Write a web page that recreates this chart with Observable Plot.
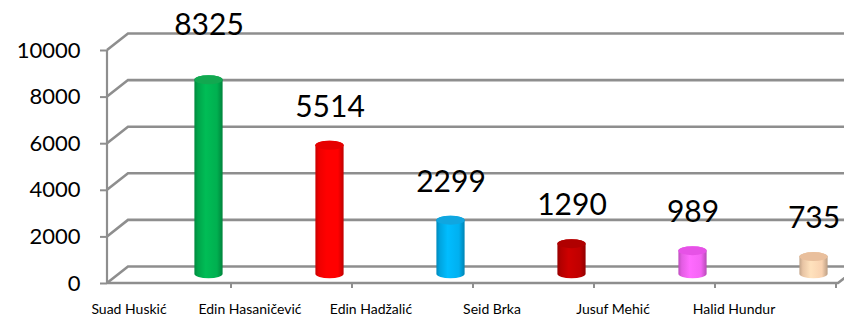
<!DOCTYPE html>
<html>
<head>
<meta charset="utf-8">
<script src="https://cdn.jsdelivr.net/npm/d3@7"></script>
<script src="https://cdn.jsdelivr.net/npm/@observablehq/plot@0.6"></script>
<style>
  html, body { margin: 0; padding: 0; background: #fff; }
  #chart { width: 844px; height: 319px; }
</style>
</head>
<body>
<div id="chart"></div>
<script>
// ---- data ----
const names = ["Suad Huskić", "Edin Hasaničević", "Edin Hadžalić", "Seid Brka", "Jusuf Mehić", "Halid Hundur"];
const values = [8325, 5514, 2299, 1290, 989, 735];
const yTicks = [0, 2000, 4000, 6000, 8000, 10000];
const bodyColors = ["#00b050", "#ff0000", "#00b0f0", "#c00000", "#f464f4", "#f9d2b0"];
const capColors = ["#12a850", "#e60000", "#10a6e0", "#b00000", "#e652e6", "#e9bf9c"];

const data = names.map((name, i) => ({name, value: values[i], i}));

// oblique 3D offsets (back wall relative to front plane)
const DX = 21, DY = 16.5;
const GRID = "#8e8e8e";

function gradients() {
  const defs = d3.create("svg:defs");
  bodyColors.forEach((c, i) => {
    const col = d3.color(c);
    const g = defs.append("linearGradient").attr("id", "cyl" + i)
      .attr("x1", 0).attr("x2", 1).attr("y1", 0).attr("y2", 0);
    g.append("stop").attr("offset", "0%").attr("stop-color", col.darker(0.7));
    g.append("stop").attr("offset", "12%").attr("stop-color", col.darker(0.2));
    g.append("stop").attr("offset", "40%").attr("stop-color", col.brighter(0.2));
    g.append("stop").attr("offset", "80%").attr("stop-color", c);
    g.append("stop").attr("offset", "100%").attr("stop-color", col.darker(0.8));
  });
  return defs.node();
}

function frame3d(index, scales, values, dims) {
  const y = scales.y, x = scales.x;
  const x0 = dims.marginLeft, x1 = dims.width - dims.marginRight;
  const g = d3.create("svg:g").attr("fill", "none").attr("stroke", GRID);
  for (const t of yTicks) {
    const yf = y(t);
    g.append("path")
      .attr("d", `M${x0},${yf}L${x0 + DX},${yf - DY}H${dims.width}`)
      .attr("stroke-width", 2.6);
  }
  // front vertical axis
  g.append("path").attr("d", `M${x0},${y(10000)}V${y(0)}`).attr("stroke-width", 2.2);
  // floor front edge and right edge
  g.append("path").attr("d", `M${x0},${y(0)}H${x1}L${x1 + DX},${y(0) - DY}`).attr("stroke-width", 2.6);
  // category boundary ticks on the floor edge
  const step = x(names[1]) - x(names[0]);
  names.forEach(n => {
    const xb = x(n) + step;
    if (xb < x1 - 1) g.append("path").attr("d", `M${xb},${y(0)}v5`).attr("stroke-width", 2);
  });
  return g.node();
}

const chart = Plot.plot({
  width: 844,
  height: 319,
  marginLeft: 107,
  marginRight: 6,
  marginTop: 50,
  marginBottom: 36,
  style: {fontFamily: "Lato, 'Open Sans', sans-serif", background: "#fff", color: "#000"},
  x: {type: "band", domain: names, padding: 0},
  y: {domain: [0, 10000]},
  color: {type: "identity"},
  marks: [
    gradients,
    frame3d,
    Plot.axisY(yTicks, {tickSize: 7, tickPadding: 20, fontSize: 22, stroke: GRID, strokeWidth: 2, tickFormat: "d", label: null}),
    Plot.axisX({tickSize: 0, tickPadding: 21, fontSize: 14, dx: -42, label: null}),
    // cylinder bodies
    Plot.barY(data, {
      x: "name", y1: 0, y2: "value",
      fill: d => `url(#cyl${d.i})`,
      insetLeft: 46.4, insetRight: 46.4, insetTop: -4.5, insetBottom: -4.5,
      rx: 14.5, ry: 4.5, dx: 38, dy: -9.3
    }),
    // cylinder caps
    Plot.barY(data, {
      x: "name", y1: "value", y2: "value",
      fill: d => capColors[d.i],
      insetLeft: 46.4, insetRight: 46.4, insetTop: -4.5, insetBottom: -4.5,
      rx: 14.5, ry: 4.5, dx: 38, dy: -9.3
    }),
    // value labels
    Plot.text(data.filter(d => d.value <= 8000), {
      x: "name", y: "value", text: d => String(d.value),
      dx: 38, dy: -38, fontSize: 30, lineAnchor: "bottom", fill: "#000"
    }),
    Plot.text(data.filter(d => d.value > 8000), {
      x: "name", y: "value", text: d => String(d.value),
      dx: 38, dy: -55, fontSize: 30, lineAnchor: "bottom", fill: "#000"
    })
  ]
});

document.getElementById("chart").appendChild(chart);
</script>
</body>
</html>
